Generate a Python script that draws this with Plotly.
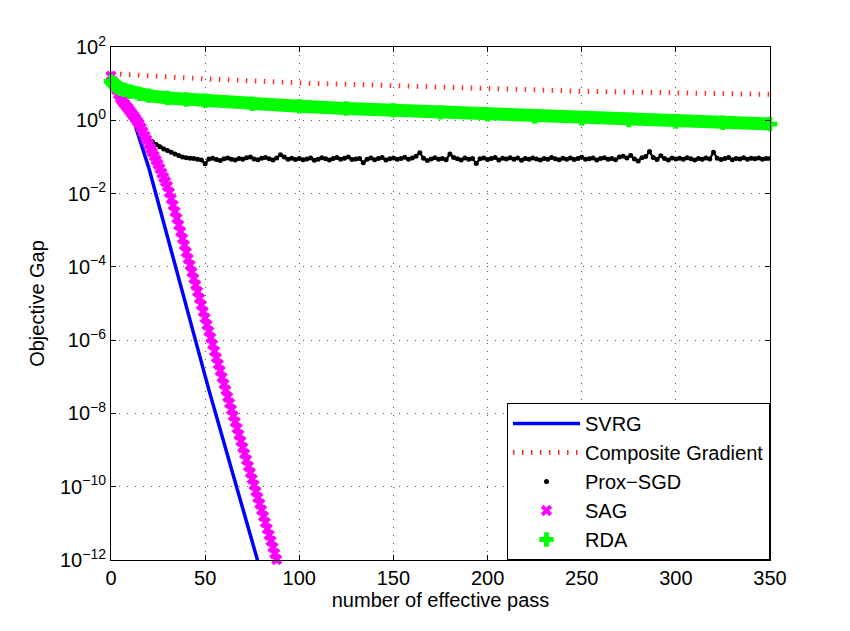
import plotly.graph_objects as go

# effective passes (x) and objective gap (y)
svrg_pass = [0, 4, 8, 10, 12, 14, 20, 25, 30, 40, 52, 65, 78, 80]
svrg_gap = [12.6, 4.6, 2.14, 1.55, 1.05, 0.47, 0.052, 5.9e-3, 6.6e-4, 8.3e-6,
            4.4e-8, 2.0e-10, 9.1e-13, 4.0e-13]

cg_pass = [0, 25, 50, 100, 150, 200, 250, 300, 350]
cg_gap = [18.6, 15.5, 13.5, 10.5, 8.6, 7.1, 6.2, 5.6, 5.1]

prox_pass = list(range(20, 351, 2))
prox_gap = [
    0.30, 0.26, 0.22, 0.19, 0.165, 0.15, 0.135, 0.12, 0.11, 0.10, 0.095, 0.092,
    0.090, 0.086, 0.083, 0.065, 0.088, 0.092, 0.085, 0.080, 0.089, 0.094, 0.087, 0.083, 0.091, 0.086, 0.095,
    0.100, 0.088, 0.084, 0.092, 0.097, 0.089, 0.082, 0.093, 0.115, 0.099, 0.087, 0.092, 0.085, 0.090, 0.084,
    0.088, 0.093, 0.081, 0.086, 0.095, 0.089, 0.083, 0.090, 0.097, 0.086, 0.092, 0.100, 0.085, 0.088, 0.091,
    0.069, 0.087, 0.093, 0.084, 0.090, 0.096, 0.082, 0.089, 0.094, 0.086, 0.091, 0.098, 0.087, 0.093, 0.105,
    0.130, 0.092, 0.080, 0.088, 0.095, 0.086, 0.091, 0.084, 0.120, 0.097, 0.089, 0.083, 0.093, 0.087, 0.091,
    0.066, 0.089, 0.094, 0.085, 0.090, 0.097, 0.083, 0.092, 0.088, 0.095, 0.086, 0.093, 0.081, 0.090, 0.087,
    0.094, 0.088, 0.083, 0.091, 0.086, 0.096, 0.089, 0.084, 0.092, 0.087, 0.093, 0.085, 0.090, 0.098, 0.086,
    0.089, 0.093, 0.082, 0.090, 0.095, 0.087, 0.091, 0.084, 0.099, 0.104, 0.093, 0.110, 0.088, 0.078, 0.095,
    0.102, 0.140, 0.096, 0.085, 0.108, 0.091, 0.082, 0.094, 0.088, 0.092, 0.086, 0.095, 0.089, 0.083, 0.091,
    0.087, 0.094, 0.088, 0.135, 0.092, 0.085, 0.090, 0.097, 0.084, 0.091, 0.088, 0.095, 0.086, 0.092, 0.089,
    0.093, 0.087, 0.091, 0.090,
]

sag_pass = list(range(0, 89))
sag_gap = [
    16, 11.5, 8.7, 6.8, 5.1, 4.0, 3.4, 2.9, 2.45, 2.14,
    1.82, 1.55, 1.32, 1.12, 0.93, 0.79, 0.62, 0.48, 0.37, 0.29,
    0.22, 0.17, 0.135, 0.105, 0.081, 0.063, 0.048, 0.036, 0.0275, 0.021,
    0.0158, 0.0107, 7.2e-3, 4.8e-3, 3.2e-3, 2.1e-3, 1.38e-3, 9.1e-4, 5.9e-4, 3.9e-4,
    2.5e-4, 1.66e-4, 1.10e-4, 7.2e-5, 4.8e-5, 3.2e-5, 2.1e-5, 1.38e-5, 9.1e-6, 6.0e-6,
    4.0e-6, 2.6e-6, 1.74e-6, 1.15e-6, 7.6e-7, 5.0e-7, 3.3e-7, 2.2e-7, 1.45e-7, 9.5e-8,
    6.3e-8, 4.3e-8, 2.8e-8, 1.9e-8, 1.26e-8, 8.5e-9, 5.8e-9, 3.9e-9, 2.6e-9, 1.74e-9,
    1.17e-9, 7.9e-10, 5.4e-10, 3.6e-10, 2.4e-10, 1.62e-10, 1.10e-10, 7.4e-11, 5.0e-11, 3.4e-11,
    2.3e-11, 1.55e-11, 1.05e-11, 7.1e-12, 4.8e-12, 3.3e-12, 2.2e-12, 1.5e-12, 1.02e-12,
]

rda_pass = [0, 1, 2, 3, 5, 7, 10, 15, 20, 30, 40, 50, 75, 100, 125, 150, 175,
            200, 225, 250, 275, 300, 325, 350]
rda_gap = [11.5, 10.0, 9.1, 8.5, 7.2, 6.8, 6.0, 5.25, 4.7, 4.07, 3.7, 3.4, 2.8,
           2.4, 2.1, 1.86, 1.64, 1.45, 1.27, 1.12, 1.02, 0.93, 0.86, 0.79]

y_ticks = [1e-12, 1e-10, 1e-8, 1e-6, 1e-4, 1e-2, 1e0, 1e2]
y_ticktext = ["10<sup>\u221212</sup>", "10<sup>\u221210</sup>", "10<sup>\u22128</sup>",
              "10<sup>\u22126</sup>", "10<sup>\u22124</sup>", "10<sup>\u22122</sup>",
              "10<sup>0</sup>", "10<sup>2</sup>"]

FONT = "Liberation Sans, Arial, sans-serif"

fig = go.Figure()
fig.add_trace(go.Scatter(x=svrg_pass, y=svrg_gap, mode="lines", name="SVRG",
                         line=dict(color="#0000ff", width=3.5)))
fig.add_trace(go.Scatter(x=cg_pass, y=cg_gap, mode="lines", name="Composite Gradient",
                         line=dict(color="#ff3030", width=5, dash="1.5px,7.5px")))
# thin chain joining the Prox-SGD dots
fig.add_trace(go.Scatter(x=prox_pass, y=prox_gap, mode="lines", showlegend=False,
                         line=dict(color="black", width=2.2), hoverinfo="skip"))
fig.add_trace(go.Scatter(x=prox_pass, y=prox_gap, mode="markers", name="Prox\u2212SGD",
                         marker=dict(color="black", size=5)))
fig.add_trace(go.Scatter(x=sag_pass, y=sag_gap, mode="markers", name="SAG",
                         marker=dict(color="#ff00ff", symbol="x", size=10),
                         cliponaxis=False))
# thick band under the RDA crosses
fig.add_trace(go.Scatter(x=rda_pass, y=rda_gap, mode="lines", showlegend=False,
                         line=dict(color="#00ff00", width=13), hoverinfo="skip"))
fig.add_trace(go.Scatter(x=rda_pass, y=rda_gap, mode="markers", name="RDA",
                         marker=dict(color="#00ff00", symbol="cross", size=12),
                         cliponaxis=False))

axis_common = dict(
    showline=True, linecolor="black", linewidth=1, mirror="allticks",
    ticks="inside", ticklen=5, tickcolor="black",
    showgrid=True, gridcolor="rgb(90,90,90)", gridwidth=1, griddash="1px,7px",
    zeroline=False, tickfont=dict(size=20, color="black", family=FONT),
)

fig.update_xaxes(range=[0, 350], dtick=50, tick0=0,
                 title=dict(text="number of effective pass", standoff=4,
                            font=dict(size=20, color="black", family=FONT)),
                 **axis_common)
fig.update_yaxes(type="log", range=[-12, 2], tickmode="array",
                 tickvals=y_ticks, ticktext=y_ticktext,
                 title=dict(text="Objective Gap", standoff=10,
                            font=dict(size=20, color="black", family=FONT)),
                 **axis_common)

# the page body adds an 8 px offset, so the figure is 8 px smaller
fig.update_layout(
    width=842, height=623,
    margin=dict(l=103, r=80, t=39, b=71),
    paper_bgcolor="white", plot_bgcolor="white",
    font=dict(family=FONT, size=20, color="black"),
    legend=dict(x=1, y=0, xanchor="right", yanchor="bottom",
                bgcolor="white", bordercolor="black", borderwidth=1,
                font=dict(size=20, color="black", family=FONT),
                itemwidth=67),
)

fig.write_html("out.html")
